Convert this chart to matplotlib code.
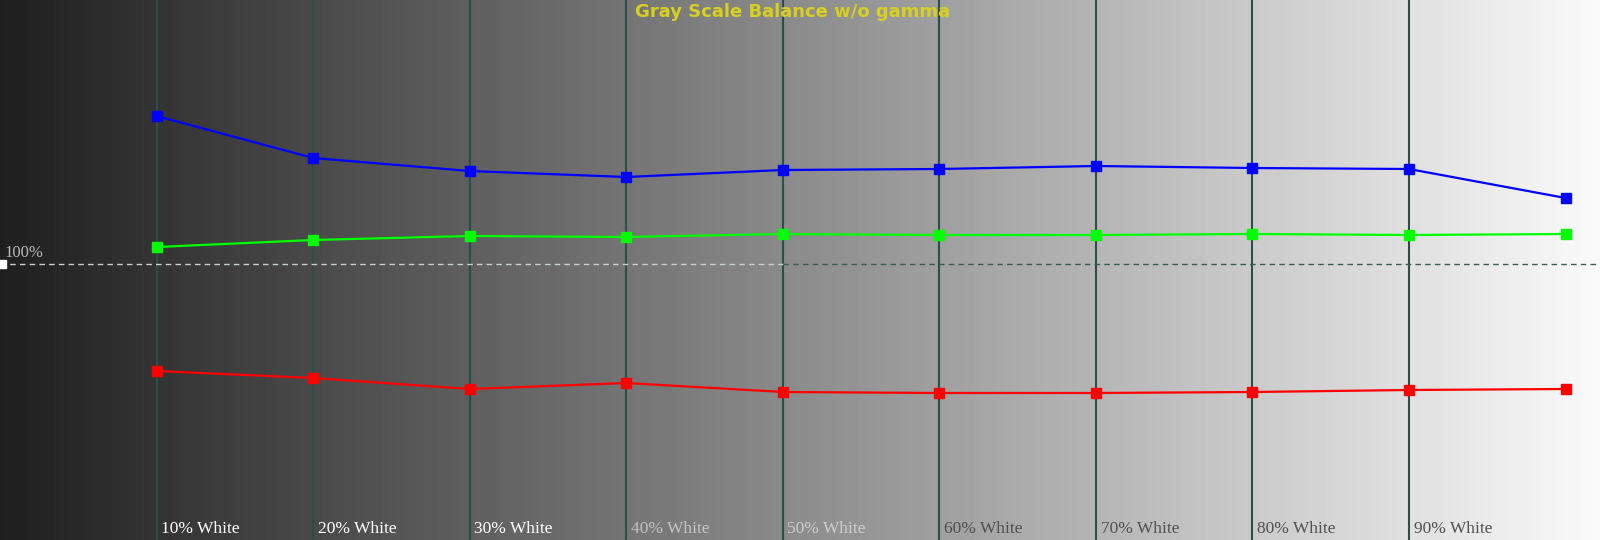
import numpy as np
import matplotlib.pyplot as plt

levels = [10, 20, 30, 40, 50, 60, 70, 80, 90, 100]
labels = ['10% White', '20% White', '30% White', '40% White', '50% White',
          '60% White', '70% White', '80% White', '90% White']
blue = [114.8, 110.6, 109.3, 108.7, 109.4, 109.5, 109.8, 109.6, 109.5, 106.6]
green = [101.7, 102.4, 102.8, 102.7, 103.0, 102.9, 102.9, 103.0, 102.9, 103.0]
red = [89.3, 88.6, 87.5, 88.1, 87.2, 87.1, 87.1, 87.2, 87.4, 87.5]

fig = plt.figure(figsize=(16, 5.4), dpi=100)
ax = fig.add_axes([0, 0, 1, 1])
x0, x1 = 0, 102.2
y0, y1 = 72.4, 126.4

# gray ramp in the background
grad = np.linspace(0.12, 0.98, 512)[None, :]
ax.imshow(grad, cmap='gray', vmin=0, vmax=1, aspect='auto',
          extent=[x0, x1, y0, y1], zorder=0)

for p in levels[:-1]:
    ax.axvline(p, color='#2a4e48', lw=1.5, zorder=1)
# dashed 100% line: light on the dark half, dark on the light half
ax.plot([0, 50], [100, 100], color='#c8d0d0', lw=1, ls=(0, (4, 3)), zorder=1)
ax.plot([50, x1], [100, 100], color='#3a5a56', lw=1, ls=(0, (4, 3)), zorder=1)

ax.plot(levels, blue, color='#0000ff', lw=1.6, marker='s', ms=7, zorder=3)
ax.plot(levels, green, color='#00ff00', lw=1.6, marker='s', ms=7, zorder=3)
ax.plot(levels, red, color='#ff0000', lw=1.6, marker='s', ms=7, zorder=3)

ax.plot([0.15], [100], marker='s', color='white', ms=6, zorder=4, clip_on=False)
ax.text(0.3, 100.3, '100%', color='#b8b8b8', fontsize=12,
        family='Liberation Serif', va='bottom')

for p, lab in zip(levels, labels):
    c = 'white' if p <= 50 else '#505050'
    a = 1.0 if p <= 30 else (0.55 if p <= 50 else 1.0)
    ax.text(p + 0.3, 72.7, lab, color=c, alpha=a, fontsize=12.5,
            family='Liberation Serif', va='bottom')

ax.text(50.6, 125.2, 'Gray Scale Balance w/o gamma', color='#d8d020',
        fontsize=13, fontweight='bold', ha='center', va='center')

ax.set_xlim(x0, x1)
ax.set_ylim(y0, y1)
ax.axis('off')
fig.savefig('out.png', dpi=100)
